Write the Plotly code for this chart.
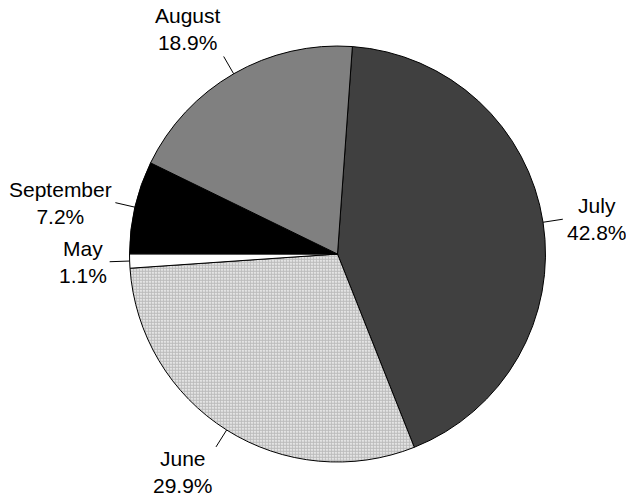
import math
import plotly.graph_objects as go

labels = ["July", "June", "May", "September", "August"]
values = [42.8, 29.9, 1.1, 7.2, 18.9]
colors = ["#404040", "#ffffff", "#ffffff", "#000000", "#808080"]
patterns = ["", ".", "", "", ""]

W, H = 626, 497
rotation = 4.1
dom_x = [0.2069, 0.8714]
dom_y = [0.0704, 0.9074]

fig = go.Figure(go.Pie(
    labels=labels, values=values, sort=False, direction="clockwise",
    rotation=rotation, textinfo="none", hoverinfo="label+percent",
    marker=dict(colors=colors, line=dict(color="#000000", width=1),
                pattern=dict(shape=patterns, fgcolor="#7a7a7a", bgcolor="#ffffff",
                             size=3, solidity=0.75, fillmode="overlay")),
    domain=dict(x=dom_x, y=dom_y), showlegend=False,
))

# geometry for leader lines / labels derived from the data
cx = (dom_x[0] + dom_x[1]) / 2 * W
cy = (1 - (dom_y[0] + dom_y[1]) / 2) * H
r = min((dom_x[1] - dom_x[0]) * W, (dom_y[1] - dom_y[0]) * H) / 2
total = sum(values)
cum = 0.0
shapes, annotations = [], []
for lab, v in zip(labels, values):
    mid = math.radians(rotation + (cum + v / 2) / total * 360)
    cum += v
    s, c = math.sin(mid), math.cos(mid)
    x0, y0 = cx + r * s, cy - r * c
    x1, y1 = cx + (r + 20) * s, cy - (r + 20) * c
    shapes.append(dict(type="line", xref="paper", yref="paper",
                       x0=x0 / W, y0=1 - y0 / H, x1=x1 / W, y1=1 - y1 / H,
                       line=dict(color="#000000", width=1)))
    xa = "left" if s > 0.3 else ("right" if s < -0.3 else "center")
    ya = "bottom" if c > 0.5 else ("top" if c < -0.5 else "middle")
    pct = v / total * 100
    annotations.append(dict(x=x1 / W, y=1 - y1 / H, xref="paper", yref="paper",
                            text=f"{lab}<br>{pct:.1f}%", showarrow=False,
                            xanchor=xa, yanchor=ya, align="center",
                            xshift=2 if xa == "left" else (-1 if xa == "right" else 0),
                            yshift=2 if ya == "top" else 0,
                            font=dict(family="Liberation Sans, Arial, sans-serif",
                                      size=21, color="#000000")))

fig.update_layout(width=W, height=H, margin=dict(l=0, r=0, t=0, b=0),
                  paper_bgcolor="#ffffff", plot_bgcolor="#ffffff",
                  shapes=shapes, annotations=annotations)
fig.write_html("out.html", config={"displayModeBar": False},
               post_script="document.body.style.margin='0';document.body.style.overflow='hidden';")
